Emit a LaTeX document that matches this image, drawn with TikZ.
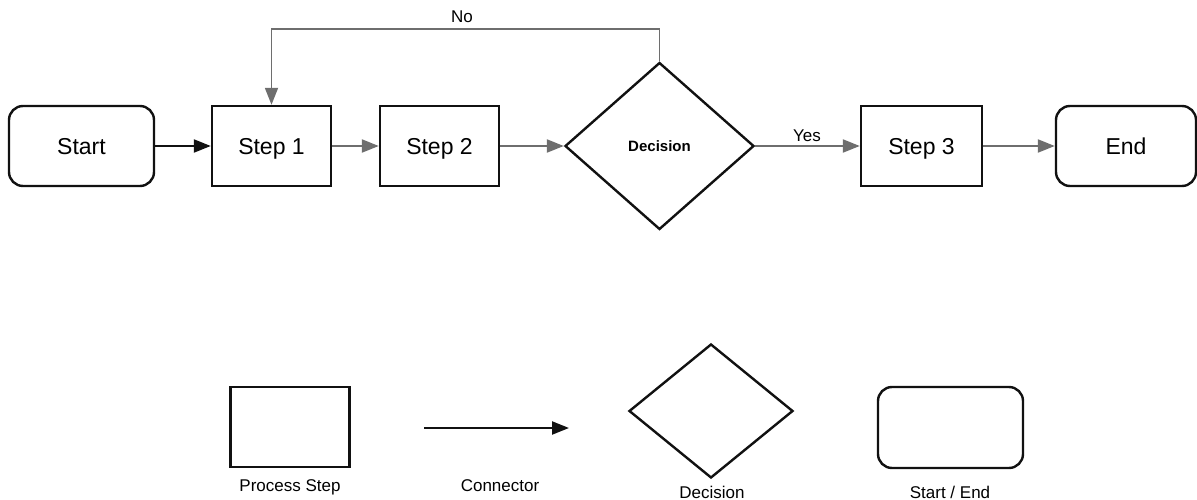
\documentclass[tikz,border=0pt]{standalone}
\usepackage{fontspec}
\setmainfont{Liberation Sans}
\usepackage{xcolor}
\definecolor{FlowBlack}{HTML}{111111}
\definecolor{FlowGray}{HTML}{6E6E6E}
\usepackage{tikz}
\usetikzlibrary{positioning, arrows.meta, shapes.geometric}

\begin{document}
\begin{tikzpicture}[x=1pt, y=-1pt,
  procbox/.style={draw=FlowBlack, line width=2.4pt, minimum width=119pt,
    minimum height=80pt, inner sep=0pt, text height=16pt, text depth=0pt,
    font=\fontsize{23}{26}\selectfont},
  termbox/.style={procbox, rounded corners=14pt},
  decbox/.style={draw=FlowBlack, diamond, line width=2.4pt, inner sep=0pt,
    minimum width=189pt, minimum height=167pt,
    font=\bfseries\fontsize{15}{18}\selectfont},
  flow/.style={draw=FlowGray, line width=2.2pt,
    -{Triangle[length=17pt, width=13pt]}},
  flowdark/.style={flow, draw=FlowBlack},
  lbl/.style={inner sep=0pt, font=\fontsize{17}{20}\selectfont}]
  \useasboundingbox (0,0) rectangle (1197,500);

  %% main flow
  \node[termbox, minimum width=145pt] (start) at (81.5,146) {Start};
  \node[procbox] (step1) at (271.5,146) {Step 1};
  \node[procbox] (step2) at (439.5,146) {Step 2};
  \node[decbox] (dec) at (659.5,146) {Decision};
  \node[procbox, minimum width=121pt] (step3) at (921.5,146) {Step 3};
  \node[termbox, minimum width=140pt] (end) at (1126,146) {End};

  %% connectors
  \draw[flowdark] (start) -- (step1);
  \draw[flow] (step1) -- (step2);
  \draw[flow] (step2) -- (dec);
  \draw[flow] (dec) -- (step3);
  \draw[flow] (step3) -- (end);
  \coordinate (loopTop) at (659.5,29);
  \draw[flow, line width=1.8pt] (dec.north) -- (loopTop) -| (step1.north);
  \node[lbl] (nolbl) at (462,17) {No};
  \node[lbl] (yeslbl) at (807,136) {Yes};

  %% legend
  \node[procbox] (legproc) at (290,427) {};
  \coordinate (conA) at (424,428);
  \coordinate (conB) at (569,428);
  \draw[flowdark] (conA) -- (conB);
  \node[decbox, minimum width=164pt, minimum height=134pt] (legdec) at (711,411) {};
  \node[termbox, minimum width=145pt, minimum height=81pt] (legterm) at (950.5,427.5) {};
  \node[lbl, anchor=base] (legproclbl) at (290,491) {Process Step};
  \node[lbl, anchor=base] (legconlbl) at (500,491) {Connector};
  \node[lbl, anchor=base] (legdeclbl) at (712,498) {Decision};
  \node[lbl, anchor=base] (legtermlbl) at (950,498) {Start / End};
\end{tikzpicture}
\end{document}
